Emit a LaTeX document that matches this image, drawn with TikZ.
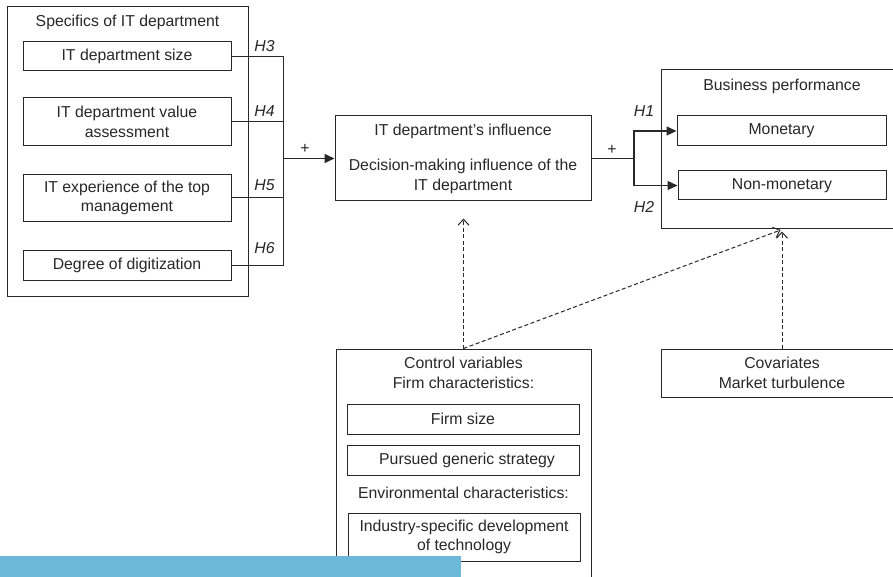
\documentclass[tikz,border=0pt]{standalone}
\usepackage{fontspec}
\setmainfont{Liberation Sans}
\usetikzlibrary{arrows.meta}
\definecolor{ln}{RGB}{40,40,40}
\definecolor{barblue}{RGB}{108,184,216}
\tikzset{
  box/.style={draw=ln, line width=1pt, rectangle, inner sep=0pt, align=center, text=ln,
    font=\fontsize{15.8}{19.5}\selectfont},
  txt/.style={inner sep=0pt, align=center, text=ln, font=\fontsize{15.8}{20.5}\selectfont},
  hlab/.style={inner sep=0pt, text=ln, font=\fontsize{15.8}{19}\selectfont\itshape},
  conn/.style={draw=ln, line width=1pt},
  solidarrow/.style={draw=ln, line width=1.5pt, -{Triangle[length=10pt,width=9pt]}},
  dasharrow/.style={draw=ln, line width=1pt, dash pattern=on 4pt off 2.5pt,
    -{Straight Barb[length=6pt,width=11pt]}},
}
\begin{document}
\begin{tikzpicture}[x=1pt,y=-1pt]
\clip (0,0) rectangle (893,577);
\fill[white] (0,0) rectangle (893,577);

% Specifics of IT department
\node[box, minimum width=241pt, minimum height=289pt] (spec) at (127.5,151.5) {};
\node[txt] (spect) at (127.5,22) {Specifics of IT department};
\node[box, minimum width=208pt, minimum height=29pt] (s1) at (127,56.5) {IT department size};
\node[box, minimum width=208pt, minimum height=48pt] (s2) at (127,122) {IT department value\\assessment};
\node[box, minimum width=208pt, minimum height=47pt] (s3) at (127,198) {IT experience of the top\\management};
\node[box, minimum width=208pt, minimum height=30pt] (s4) at (127,265) {Degree of digitization};

\coordinate (j) at (283,158.5);
\draw[conn] (s1.east) -| (j);
\draw[conn] (s2.east) -| (j);
\draw[conn] (s3.east) -| (j);
\draw[conn] (s4.east) -| (j);
\node[hlab] (h3) at (264.5,46) {H3};
\node[hlab] (h4) at (264.5,111) {H4};
\node[hlab] (h5) at (264.5,185) {H5};
\node[hlab] (h6) at (264.5,248) {H6};

% IT department's influence
\node[box, minimum width=256pt, minimum height=85pt] (inf) at (463,158.5)
  {IT department’s influence\\[16pt]Decision-making influence of the\\IT department};
\draw[solidarrow] (j) -- (inf.west);
\node[txt] (p1) at (305,149) {+};

% Business performance
\node[box, minimum width=242pt, minimum height=159pt] (bp) at (782,149.5) {};
\node[txt] (bpt) at (782,86) {Business performance};
\node[box, minimum width=209pt, minimum height=30pt] (mon) at (781.5,131) {Monetary};
\node[box, minimum width=208pt, minimum height=29pt] (non) at (782,185.5) {Non-monetary};

\coordinate (k) at (634,158.5);
\draw[conn, line width=1.4pt] (inf.east) -- (k);
\draw[solidarrow, line width=1.3pt] (k) |- (mon.west);
\draw[solidarrow, line width=1.3pt] (k) |- (non.west);
\node[txt] (p2) at (612,150) {+};
\node[hlab] (h1) at (644,111) {H1};
\node[hlab] (h2) at (644,207) {H2};

% Control variables
\node[box, minimum width=255pt, minimum height=251pt] (ctrl) at (463.5,474.5) {};
\node[txt] (ctrlt) at (463.5,373) {Control variables\\Firm characteristics:};
\node[box, minimum width=232pt, minimum height=30pt] (fs) at (463,419) {Firm size};
\node[box, minimum width=232pt, minimum height=30pt] (pg) at (463,460) {\hspace{8pt}Pursued generic strategy};
\node[txt] (env) at (463.5,493) {Environmental characteristics:};
\node[box, minimum width=232pt, minimum height=48pt] (ind) at (464,537)
  {Industry-specific development\\of technology};

% Covariates
\node[box, minimum width=242pt, minimum height=48pt] (cov) at (782,373)
  {Covariates\\Market turbulence};

% dashed influences
\draw[dasharrow, shorten >=17pt] (ctrl.north) -- (ctrl.north |- inf.south);
\draw[dasharrow, shorten >=1.5pt] (ctrl.north) -- (bp.south);
\draw[dasharrow, shorten >=2pt] (cov.north) -- (bp.south);

% blue bar
\fill[barblue] (0,556) rectangle (461,578);
\end{tikzpicture}
\end{document}
